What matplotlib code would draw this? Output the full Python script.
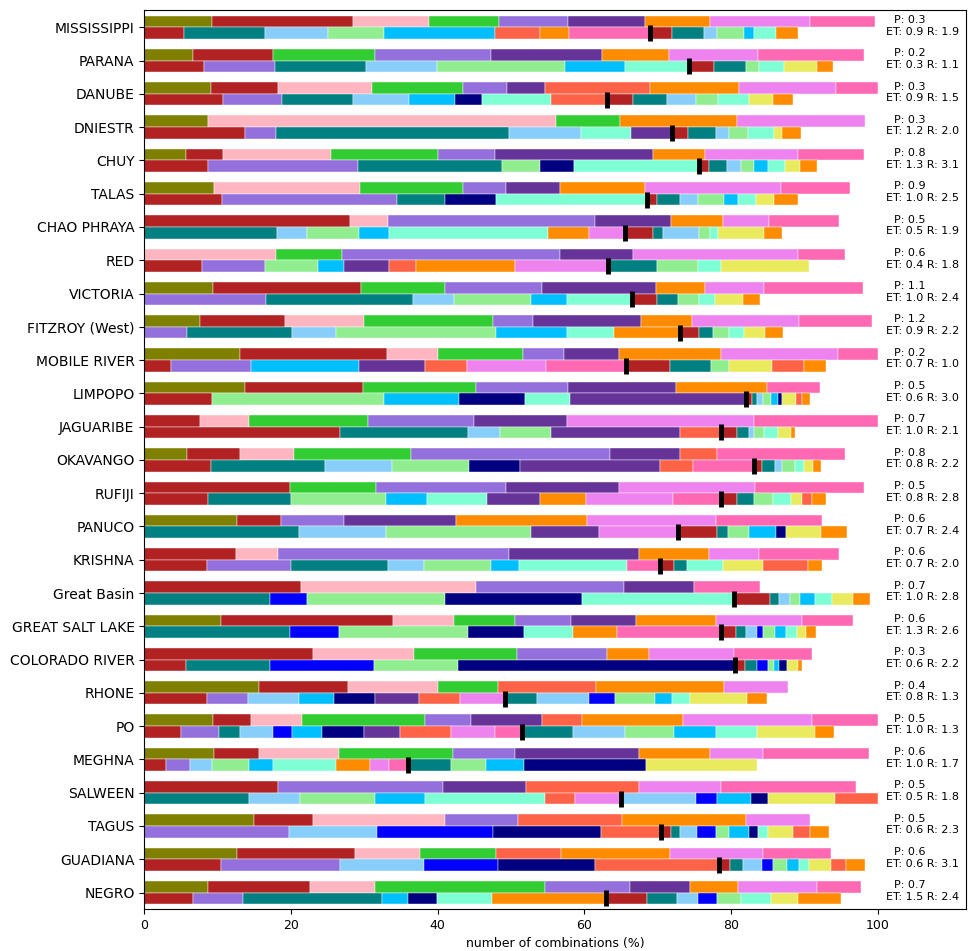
import matplotlib
matplotlib.use('Agg')
import matplotlib.pyplot as plt

# colour codes used in the segment strings
colours = {
    'ol': 'olive', 'fb': 'firebrick', 'lp': 'lightpink', 'lm': 'limegreen',
    'mp': 'mediumpurple', 'rp': 'rebeccapurple', 'do': 'darkorange',
    'vi': 'violet', 'hp': 'hotpink', 'te': 'teal', 'ls': 'lightskyblue',
    'lg': 'lightgreen', 'ds': 'deepskyblue', 'bl': 'blue', 'nv': 'navy',
    'aq': 'aquamarine', 'to': 'tomato', 'kh': '#eaea5e',
}

rivers = ['MISSISSIPPI', 'PARANA', 'DANUBE', 'DNIESTR', 'CHUY', 'TALAS',
          'CHAO PHRAYA', 'RED', 'VICTORIA', 'FITZROY (West)', 'MOBILE RIVER',
          'LIMPOPO', 'JAGUARIBE', 'OKAVANGO', 'RUFIJI', 'PANUCO', 'KRISHNA',
          'Great Basin', 'GREAT SALT LAKE', 'COLORADO RIVER', 'RHONE', 'PO',
          'MEGHNA', 'SALWEEN', 'TAGUS', 'GUADIANA', 'NEGRO']

P = [0.3, 0.2, 0.3, 0.3, 0.8, 0.9, 0.5, 0.6, 1.1, 1.2, 0.2, 0.5, 0.7, 0.8,
     0.5, 0.6, 0.6, 0.7, 0.6, 0.3, 0.4, 0.5, 0.6, 0.5, 0.5, 0.6, 0.7]
ET = [0.9, 0.3, 0.9, 1.2, 1.3, 1.0, 0.5, 0.4, 1.0, 0.9, 0.7, 0.6, 1.0, 0.8,
      0.8, 0.7, 0.7, 1.0, 1.3, 0.6, 0.8, 1.0, 1.0, 0.5, 0.6, 0.6, 1.5]
R = [1.9, 1.1, 1.5, 2.0, 3.1, 2.5, 1.9, 1.8, 2.4, 2.2, 1.0, 3.0, 2.1, 2.2,
     2.8, 2.4, 2.0, 2.8, 2.6, 2.2, 1.3, 1.3, 1.7, 1.8, 2.3, 3.1, 2.4]

# upper bar: segment colours and cumulative right edges (%)
top_cols = [
    'ol fb lp lm mp rp do vi hp', 'ol fb lm mp rp do vi hp',
    'ol fb lp lm mp rp to do vi hp', 'ol lp lm do vi',
    'ol fb lp lm mp rp do vi hp', 'ol lp lm mp rp do vi hp',
    'fb lp mp rp do vi hp', 'lp lm mp rp vi hp', 'ol fb lm mp rp do vi hp',
    'ol fb lp lm mp rp do vi hp', 'ol fb lp lm mp rp do vi hp',
    'ol fb lm mp rp do hp', 'fb lp lm mp rp vi hp', 'ol fb lp lm mp rp to hp',
    'fb lm mp rp vi hp', 'ol fb mp rp do vi hp', 'fb lp mp rp do vi hp',
    'fb lp mp rp hp', 'ol fb lp lm mp rp do vi hp', 'fb lp lm mp do vi hp',
    'ol fb lp lm to do vi', 'ol fb lp lm mp rp to do vi hp',
    'ol fb lp lm mp rp do vi hp', 'fb mp rp to vi hp', 'ol fb lp mp to do vi',
    'ol fb lp lm to do vi hp', 'ol fb lp lm mp rp do vi hp',
]
top_edges = [
    [9.2, 28.5, 38.8, 48.4, 57.8, 68.3, 77.1, 90.8, 99.6],
    [6.6, 17.6, 31.5, 47.3, 62.4, 71.5, 83.7, 98.1],
    [9.1, 18.2, 31.1, 43.5, 49.4, 54.7, 69.0, 81.1, 94.3, 100.0],
    [8.7, 56.2, 64.9, 80.8, 98.3],
    [5.7, 10.8, 25.4, 40.1, 47.8, 69.4, 76.5, 89.2, 98.1],
    [9.5, 29.4, 43.5, 49.3, 56.7, 68.3, 86.8, 96.3],
    [28.1, 33.3, 61.4, 71.8, 78.9, 85.2, 94.7],
    [18.0, 26.9, 56.7, 66.7, 89.2, 95.5],
    [9.4, 29.5, 41.0, 54.3, 69.8, 76.5, 84.5, 98.0],
    [7.6, 19.2, 30.0, 47.6, 53.0, 67.8, 74.7, 89.3, 99.2],
    [13.1, 33.1, 40.0, 51.6, 57.3, 64.8, 78.6, 94.6, 100.0],
    [13.7, 29.8, 45.3, 57.8, 72.5, 84.9, 92.2],
    [7.6, 14.3, 30.5, 44.9, 57.6, 83.1, 100.0],
    [5.8, 13.1, 20.4, 36.4, 63.5, 73.0, 78.1, 95.6],
    [19.9, 31.6, 49.3, 64.7, 83.3, 98.1],
    [12.7, 18.6, 27.3, 42.5, 60.4, 78.0, 92.4],
    [12.5, 18.3, 49.7, 67.5, 77.0, 83.8, 94.7],
    [21.4, 45.2, 65.4, 75.0, 83.9],
    [10.4, 33.9, 42.3, 50.5, 58.2, 67.0, 78.0, 89.7, 96.6],
    [23.0, 36.8, 50.8, 63.1, 68.8, 80.4, 91.0],
    [15.7, 27.8, 40.1, 48.3, 61.6, 79.1, 87.8],
    [9.4, 14.5, 21.5, 38.3, 44.5, 54.2, 59.7, 73.5, 91.0, 100.0],
    [9.5, 15.7, 26.5, 42.1, 50.6, 67.5, 77.1, 84.4, 98.8],
    [18.3, 40.8, 52.1, 67.4, 78.6, 97.0],
    [15.0, 23.0, 41.0, 50.9, 65.2, 82.0, 90.8],
    [12.7, 28.8, 37.6, 48.0, 56.8, 71.7, 84.4, 93.7],
    [8.7, 22.6, 31.4, 54.6, 66.3, 74.4, 80.9, 91.8, 97.7],
]

# lower bar: '|' marks where the black tick sits
bot_cols = [
    'fb te ls lg ds to do hp | fb te ls lg ds aq do',
    'fb mp te ls lg ds aq | fb te lg aq kh do',
    'fb mp te ls ds nv aq to | fb te ls lg aq kh do',
    'fb mp te ls aq rp | fb te ls lg aq kh do',
    'fb mp te lg nv aq | fb te ls lg ds aq kh do',
    'fb mp te nv aq | fb te ls lg ds aq kh do',
    'te ls lg ds aq do vi | fb te ls lg aq kh do',
    'fb mp lg ds rp to do vi | te lg aq kh',
    'mp te ls lg ds aq | fb te lg aq kh do',
    'mp te ls lg ds aq do | fb te lg aq kh do',
    'fb mp ds rp to vi hp | fb te lg kh to do',
    'fb lg ds nv aq rp | fb te ls lg ds nv kh to do',
    'fb te ls lg rp to | fb te ls lg aq kh do',
    'fb te ls lg nv rp to hp | fb te ls lg aq kh do',
    'fb te lg ds aq rp do vi hp | fb te lg aq kh to do',
    'te ls lg rp vi | fb te lg ds nv kh do',
    'fb mp te ls lg ds aq hp | fb te aq kh to do',
    'te bl lg nv aq | fb te ls lg ds aq kh do',
    'te bl lg nv aq do hp | fb te ls bl lg ds aq kh do',
    'fb te bl lg nv | fb te bl lg ds nv kh do',
    'fb mp ls ds nv rp to vi | te ls bl lg ds aq kh do',
    'fb mp te ls bl ds nv rp to vi hp | te ls lg ds aq kh do',
    'fb mp ls lg ds aq do vi hp | te lg ds nv kh',
    'te ls lg ds aq to vi | ls bl ds nv kh to',
    'mp ls bl nv to | fb te ls bl lg ds nv aq kh to do',
    'fb mp ls bl nv to | fb te ls bl lg ds aq kh to do',
    'fb mp te ds nv aq do | fb te ls bl lg aq kh do',
]
bot_edges = [
    [5.4, 16.4, 25.0, 32.7, 47.8, 53.9, 57.9, 68.9, 72.0, 76.3, 78.1, 81.8, 83.2, 86.1, 89.1],
    [8.1, 17.8, 30.3, 39.9, 57.4, 65.5, 74.3, 77.7, 82.1, 83.8, 87.2, 91.7, 93.9],
    [10.8, 18.8, 28.4, 36.1, 42.4, 46.0, 55.4, 63.1, 66.6, 71.3, 75.3, 78.3, 82.5, 85.8, 88.5],
    [13.8, 18.0, 49.8, 59.5, 66.4, 72.0, 74.2, 78.0, 79.8, 82.3, 85.9, 86.9, 89.6],
    [8.7, 29.2, 48.8, 54.0, 58.6, 75.7, 77.0, 79.5, 81.4, 83.2, 85.0, 87.4, 89.4, 91.7],
    [10.6, 34.5, 41.0, 47.9, 68.6, 69.9, 73.0, 75.5, 79.1, 80.9, 83.4, 85.9, 89.1],
    [18.1, 22.2, 29.3, 33.4, 55.1, 60.7, 65.5, 69.4, 70.8, 75.7, 77.2, 78.3, 84.5, 86.9],
    [7.9, 16.4, 23.7, 27.3, 33.4, 37.1, 50.5, 63.2, 69.9, 75.5, 78.6, 90.6],
    [16.6, 36.6, 42.3, 52.8, 57.6, 66.5, 69.9, 72.8, 75.7, 77.8, 81.6, 83.9],
    [5.9, 20.2, 26.1, 48.0, 57.6, 64.1, 73.0, 75.6, 77.6, 79.7, 81.8, 84.6, 87.1],
    [3.7, 14.6, 29.3, 38.3, 44.0, 54.8, 65.7, 71.7, 77.3, 79.7, 85.6, 89.9, 92.9],
    [9.3, 32.7, 42.9, 51.9, 58.0, 82.1, 82.9, 83.5, 84.4, 85.4, 86.4, 87.0, 88.9, 89.7, 90.8],
    [26.7, 44.2, 48.5, 55.4, 73.1, 78.6, 80.8, 82.5, 83.1, 84.5, 86.4, 88.2, 88.8],
    [9.1, 24.6, 33.8, 44.3, 51.3, 70.3, 74.8, 83.2, 84.3, 86.0, 87.0, 88.8, 90.0, 91.2, 92.3],
    [8.7, 20.0, 32.9, 38.6, 46.7, 53.9, 60.3, 72.1, 78.6, 80.8, 83.2, 85.8, 88.2, 89.7, 91.0, 93.0],
    [21.1, 32.9, 52.7, 62.0, 72.8, 78.1, 79.6, 82.4, 86.1, 87.5, 92.3, 95.8],
    [8.6, 20.0, 33.3, 38.1, 47.3, 51.1, 65.8, 70.3, 72.3, 74.0, 78.9, 84.4, 90.5, 92.4],
    [17.1, 22.2, 41.0, 59.7, 80.4, 85.3, 86.6, 88.0, 89.4, 91.5, 93.8, 96.7, 98.9],
    [19.9, 26.6, 44.1, 51.8, 58.5, 64.4, 78.6, 80.7, 82.1, 83.6, 84.4, 86.0, 87.5, 89.0, 90.3, 91.6],
    [5.7, 17.1, 31.3, 42.8, 80.5, 81.9, 83.5, 85.0, 85.9, 86.5, 87.6, 89.1, 89.7],
    [8.6, 14.2, 21.1, 25.9, 31.5, 37.5, 43.0, 49.2, 53.6, 60.7, 64.2, 69.6, 72.0, 74.4, 82.2, 84.9],
    [5.0, 10.2, 13.0, 17.5, 20.2, 24.3, 30.0, 34.9, 41.8, 47.8, 51.5, 58.5, 65.5, 72.3, 77.9, 83.5, 91.4, 94.0],
    [3.0, 6.2, 9.2, 14.3, 17.5, 26.1, 30.8, 33.4, 36.0, 41.8, 46.6, 51.8, 68.4, 83.5],
    [14.3, 21.2, 31.5, 38.3, 54.7, 58.7, 65.0, 75.3, 78.1, 82.7, 85.0, 94.2, 100.0],
    [19.8, 31.8, 47.5, 62.3, 70.5, 71.8, 73.1, 75.4, 78.0, 79.7, 82.4, 83.7, 85.1, 88.4, 90.8, 93.4],
    [10.4, 26.7, 38.1, 48.3, 61.4, 78.4, 79.9, 81.6, 84.2, 85.7, 87.6, 89.3, 90.6, 93.6, 95.7, 98.3],
    [6.7, 13.5, 32.4, 36.0, 39.9, 47.4, 62.9, 68.5, 72.7, 75.5, 78.1, 81.4, 85.5, 89.2, 95.0],
]


def draw_bar(ax, y, codes, edges):
    lefts = [0] + edges[:-1]
    widths = [e - l for e, l in zip(edges, lefts)]
    ax.barh([y] * len(edges), widths, left=lefts, height=0.35,
            color=[colours[c] for c in codes], edgecolor='white', linewidth=0.3)


fig = plt.figure(figsize=(9.68, 9.51), dpi=100)
ax = fig.add_axes([0.149, 0.044, 0.8485, 0.9455])

for i, river in enumerate(rivers):
    draw_bar(ax, i - 0.175, top_cols[i].split(), top_edges[i])
    parts = bot_cols[i].split()
    n_first = parts.index('|')
    codes = [c for c in parts if c != '|']
    draw_bar(ax, i + 0.175, codes, bot_edges[i])
    # black tick at the end of the first part of the lower bar
    ax.plot(bot_edges[i][n_first - 1], i + 0.175, marker='|', ms=11.5, mew=3.5,
            color='black', zorder=5)
    ax.text(102.2, i - 0.22, 'P: %.1f' % P[i], fontsize=8, va='center', ha='left')
    ax.text(101.1, i + 0.13, 'ET: %.1f R: %.1f' % (ET[i], R[i]), fontsize=8,
            va='center', ha='left')

ax.set_yticks(range(len(rivers)))
ax.set_yticklabels(rivers, fontsize=10)
ax.set_ylim(26.5, -0.52)
ax.set_xlim(0, 112)
ax.set_xticks([0, 20, 40, 60, 80, 100])
ax.tick_params(axis='x', labelsize=9)
ax.set_xlabel('number of combinations (%)', fontsize=9)

plt.savefig('out.png', dpi=100)
